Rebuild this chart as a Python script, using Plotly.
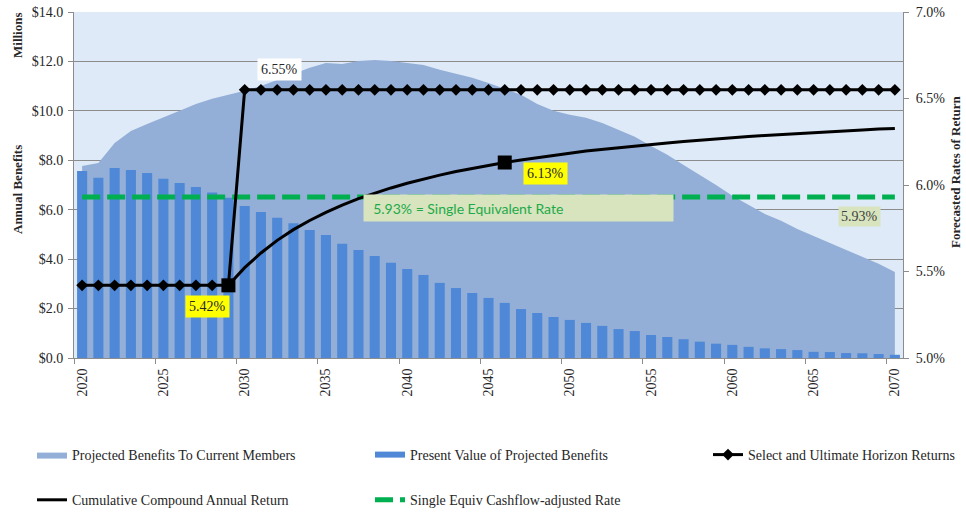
import plotly.graph_objects as go

# ---- data -------------------------------------------------------------
years = list(range(2020, 2071))

# Projected benefits to current members ($ millions)
projected_benefits = [7.77, 7.89, 8.70, 9.19, 9.47, 9.72, 10.00, 10.28, 10.49, 10.65,
                      10.81, 11.01, 11.26, 11.50, 11.74, 11.94, 11.90, 12.02, 12.06, 12.02,
                      11.94, 11.86, 11.66, 11.50, 11.34, 11.13, 10.89, 10.65, 10.28, 10.00,
                      9.84, 9.72, 9.51, 9.23, 8.95, 8.58, 8.22, 7.81, 7.41, 7.00,
                      6.56, 6.19, 5.83, 5.55, 5.22, 4.94, 4.66, 4.37, 4.09, 3.81, 3.48]

# Present value of projected benefits ($ millions)
present_value = [7.57, 7.29, 7.69, 7.61, 7.49, 7.25, 7.08, 6.92, 6.70, 6.48,
                 6.15, 5.91, 5.67, 5.45, 5.18, 4.98, 4.62, 4.37, 4.13, 3.85,
                 3.60, 3.36, 3.04, 2.83, 2.63, 2.43, 2.23, 1.98, 1.82, 1.66,
                 1.54, 1.42, 1.30, 1.17, 1.09, 0.93, 0.85, 0.76, 0.66, 0.58,
                 0.53, 0.45, 0.39, 0.36, 0.32, 0.25, 0.24, 0.20, 0.19, 0.16, 0.13]

# Select (first 10 years) and ultimate horizon returns (%)
select_ultimate = [5.42] * 10 + [6.55] * 41

# Cumulative compound annual return (%)
cumulative_years = list(range(2029, 2071))
cumulative_return = [5.420, 5.522, 5.607, 5.680, 5.742, 5.795, 5.842, 5.884, 5.921, 5.954,
                     5.983, 6.010, 6.035, 6.057, 6.078, 6.096, 6.114, 6.130, 6.145, 6.159,
                     6.172, 6.184, 6.196, 6.206, 6.216, 6.226, 6.235, 6.243, 6.251, 6.259,
                     6.266, 6.273, 6.280, 6.286, 6.292, 6.298, 6.303, 6.309, 6.314, 6.318,
                     6.323, 6.327]
highlight_years = [2029, 2046]

# Single equivalent cashflow-adjusted rate (%)
single_equiv_rate = [5.93] * 51

x_ticks = list(range(2020, 2071, 5))
y_ticks = [0, 2, 4, 6, 8, 10, 12, 14]
y_ticktext = ["$0.0", "$2.0", "$4.0", "$6.0", "$8.0", "$10.0", "$12.0", "$14.0"]
rate_ticks = [5.0, 5.5, 6.0, 6.5, 7.0]
rate_ticktext = ["5.0%", "5.5%", "6.0%", "6.5%", "7.0%"]

# ---- styling ----------------------------------------------------------
SERIF = "Liberation Serif"
GRAY = "#8c8c8c"
AREA = "#93AFD7"
BAR = "#4F88D6"
GREEN = "#00B050"
TEXT = "#262626"

fig = go.Figure()

# Projected benefits area (main subplot, drawn first)
fig.add_trace(go.Scatter(
    x=years, y=projected_benefits, mode="lines", fill="tozeroy",
    fillcolor=AREA, line=dict(width=0, color=AREA),
    name="Projected Benefits To Current Members",
    legend="legend", legendgroup="a", xaxis="x", yaxis="y"))

# Present value bars on an overlaid axis so they sit above the area
fig.add_trace(go.Bar(
    x=years, y=present_value, width=0.62,
    marker=dict(color=BAR, line=dict(width=0)),
    name="Present Value of Projected Benefits", showlegend=False,
    xaxis="x", yaxis="y2"))
fig.add_trace(go.Scatter(
    x=[None], y=[None], mode="lines", line=dict(color=BAR, width=6),
    name="Present Value of Projected Benefits",
    legend="legend2", legendgroup="b", xaxis="x", yaxis="y2"))

# Rate lines on the right-hand axis
fig.add_trace(go.Scatter(
    x=years, y=single_equiv_rate, mode="lines",
    line=dict(color=GREEN, width=5, dash="18px,7px"),
    name="Single Equiv Cashflow-adjusted Rate",
    legend="legend2", legendgroup="c", xaxis="x", yaxis="y3"))

fig.add_trace(go.Scatter(
    x=years, y=select_ultimate, mode="lines+markers",
    line=dict(color="black", width=3),
    marker=dict(symbol="diamond", size=9, color="black"),
    name="Select and Ultimate Horizon Returns",
    legend="legend3", legendgroup="d", xaxis="x", yaxis="y3"))

fig.add_trace(go.Scatter(
    x=cumulative_years, y=cumulative_return, mode="lines",
    line=dict(color="black", width=3),
    name="Cumulative Compound Annual Return",
    legend="legend", legendgroup="e", xaxis="x", yaxis="y3"))

hl_vals = [cumulative_return[cumulative_years.index(y)] for y in highlight_years]
fig.add_trace(go.Scatter(
    x=highlight_years, y=hl_vals, mode="markers",
    marker=dict(symbol="square", size=14, color="black"),
    showlegend=False, xaxis="x", yaxis="y3"))

# ---- annotations ------------------------------------------------------
annotations = [
    dict(x=2032.17, y=6.665, xref="x", yref="y3",
         text=f"{select_ultimate[10]:.2f}%", showarrow=False,
         bgcolor="white", borderpad=3, font=dict(size=14, color=TEXT)),
    dict(x=2027.74, y=5.30, xref="x", yref="y3",
         text=f"{hl_vals[0]:.2f}%", showarrow=False,
         bgcolor="#FFFF00", borderpad=3, font=dict(size=14, color=TEXT)),
    dict(x=2048.48, y=6.069, xref="x", yref="y3",
         text=f"{hl_vals[1]:.2f}%", showarrow=False,
         bgcolor="#FFFF00", borderpad=3, font=dict(size=14, color=TEXT)),
    dict(x=2037.28, y=5.867, xref="x", yref="y3", xanchor="left",
         text=f"&nbsp;&nbsp;{single_equiv_rate[0]:.2f}% = Single Equivalent Rate",
         showarrow=False, align="left", width=305, height=22, borderpad=2,
         bgcolor="#D7E4BD", font=dict(family="Lato, sans-serif", size=14, color="#1DAA4A")),
    dict(x=2067.85, y=5.82, xref="x", yref="y3",
         text=f"{single_equiv_rate[-1]:.2f}%", showarrow=False,
         bgcolor="#D7E4BD", borderpad=2, font=dict(size=14, color="#404040")),
    # axis titles
    dict(x=(17 - 74) / 829, y=(358 - 35) / 346, xref="paper", yref="paper",
         xanchor="center", yanchor="middle",
         text="<b>Millions</b>", textangle=-90, showarrow=False,
         font=dict(size=13, color=TEXT)),
    dict(x=(17 - 74) / 829, y=(358 - 190) / 346, xref="paper", yref="paper",
         xanchor="center", yanchor="middle",
         text="<b>Annual Benefits</b>", textangle=-90, showarrow=False,
         font=dict(size=13, color=TEXT)),
    dict(x=(955 - 74) / 829, y=(358 - 172) / 346, xref="paper", yref="paper",
         xanchor="center", yanchor="middle",
         text="<b>Forecasted Rates of Return</b>", textangle=-90, showarrow=False,
         font=dict(size=13, color=TEXT)),
]

legend_common = dict(
    orientation="v", xanchor="left", yanchor="top", y=(358 - 439) / 346,
    traceorder="grouped", tracegroupgap=24, bgcolor="rgba(0,0,0,0)",
    font=dict(family=SERIF, size=14, color=TEXT))

fig.update_layout(
    width=966, height=514,
    margin=dict(l=74, r=63, t=12, b=156, autoexpand=False),
    paper_bgcolor="white", plot_bgcolor="#DEEAF7",
    font=dict(family=SERIF, size=14, color=TEXT),
    annotations=annotations,
    legend=dict(x=(32 - 74) / 829, **legend_common),
    legend2=dict(x=(370 - 74) / 829, **legend_common),
    legend3=dict(x=(708 - 74) / 829, **legend_common),
    xaxis=dict(
        range=[2019.5, 2070.5], tickmode="array", tickvals=x_ticks,
        ticktext=[str(v) for v in x_ticks], tickangle=-90, ticks="",
        ticklabelstandoff=4,
        showline=True, linecolor=GRAY, linewidth=1, showgrid=False, zeroline=False,
        minor=dict(tickvals=[2019.5 + 5 * k for k in range(11)], ticks="outside",
                   ticklen=5, tickcolor=GRAY, showgrid=False),
        tickfont=dict(family=SERIF, size=14, color=TEXT)),
    yaxis=dict(
        range=[0, 14], tickmode="array", tickvals=y_ticks, ticktext=y_ticktext,
        ticks="outside", ticklen=5, tickcolor=GRAY, ticklabelstandoff=2,
        showline=True, linecolor=GRAY, showgrid=True, gridcolor=GRAY,
        gridwidth=1, zeroline=False, tickfont=dict(family=SERIF, size=14, color=TEXT)),
    yaxis2=dict(range=[0, 14], overlaying="y", visible=False),
    yaxis3=dict(
        range=[5, 7], overlaying="y", side="right", anchor="x",
        tickmode="array", tickvals=rate_ticks, ticktext=rate_ticktext,
        ticks="outside", ticklen=5, tickcolor=GRAY, ticklabelstandoff=4,
        showline=True, linecolor=GRAY, showgrid=False, zeroline=False,
        tickfont=dict(family=SERIF, size=14, color=TEXT)),
)

fig.write_html("out.html")
